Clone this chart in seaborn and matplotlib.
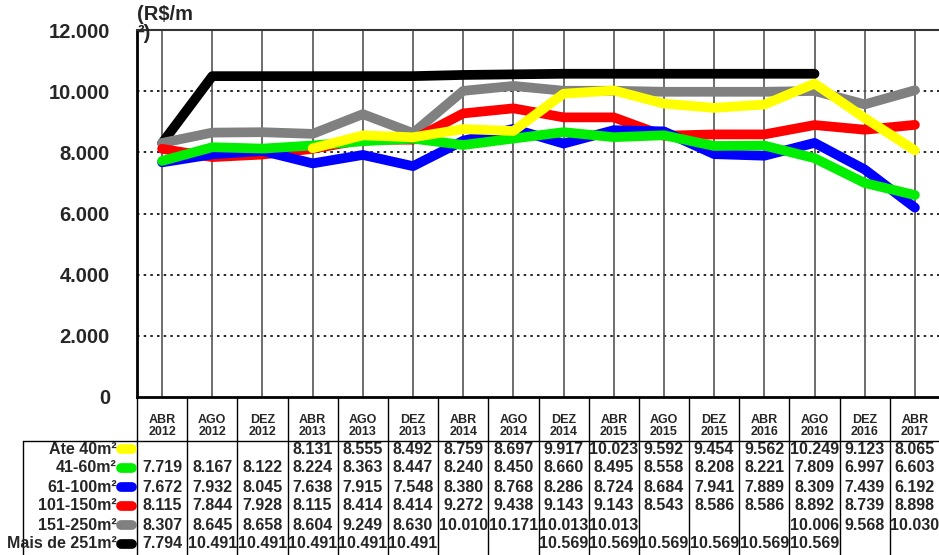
import numpy as np
import pandas as pd
import matplotlib
matplotlib.use("Agg")
import matplotlib.pyplot as plt
from matplotlib.lines import Line2D
import seaborn as sns

# --- data (R$/m2) ---
months = ["ABR", "AGO", "DEZ"] * 5 + ["ABR"]
years = ["2012"] * 3 + ["2013"] * 3 + ["2014"] * 3 + ["2015"] * 3 + ["2016"] * 3 + ["2017"]
x_labels = [f"{m}\n{y}" for m, y in zip(months, years)]

faixas = ["Ate 40m²", "41-60m²", "61-100m²", "101-150m²", "151-250m²", "Mais de 251m²"]
cores = ["#FFFF00", "#00EE00", "#0000FF", "#FF0000", "#808080", "#000000"]

nan = np.nan
ate_40 = [nan, nan, nan, 8131, 8555, 8492, 8759, 8697, 9917, 10023, 9592, 9454, 9562, 10249, 9123, 8065]
m41_60 = [7719, 8167, 8122, 8224, 8363, 8447, 8240, 8450, 8660, 8495, 8558, 8208, 8221, 7809, 6997, 6603]
m61_100 = [7672, 7932, 8045, 7638, 7915, 7548, 8380, 8768, 8286, 8724, 8684, 7941, 7889, 8309, 7439, 6192]
m101_150 = [8115, 7844, 7928, 8115, 8414, 8414, 9272, 9438, 9143, 9143, 8543, 8586, 8586, 8892, 8739, 8898]
m151_250 = [8307, 8645, 8658, 8604, 9249, 8630, 10010, 10171, 10013, 10013, nan, nan, nan, 10006, 9568, 10030]
mais_251 = [7794, 10491, 10491, 10491, 10491, 10491, nan, nan, 10569, 10569, 10569, 10569, 10569, 10569, nan, nan]
tabela = [ate_40, m41_60, m61_100, m101_150, m151_250, mais_251]

# the drawn lines differ a little from the table where cells are blank
# (estimated from the curves in the picture)
linha_151_250 = [8307, 8645, 8658, 8604, 9249, 8630, 10010, 10171, 10013, 10013, 9980, 9980, 9980, 10006, 9568, 10030]
linha_251 = [8300, 10491, 10491, 10491, 10491, 10491, 10530, 10550, 10569, 10569, 10569, 10569, 10569, 10569, nan, nan]
linhas = [ate_40, m41_60, m61_100, m101_150, linha_151_250, linha_251]


def fmt(v):
    return f"{int(v):,}".replace(",", ".")


sns.set_style("white")
plt.rcParams['font.family'] = ['Liberation Sans', 'DejaVu Sans']
plt.rcParams['font.weight'] = 'bold'

W, H = 939, 555
fig = plt.figure(figsize=(W / 100, H / 100), dpi=100)


def fx(px):
    return px / W


def fy(py):
    return 1 - py / H


ax = fig.add_axes([fx(137), fy(397), fx(940) - fx(137), fy(30) - fy(397)])

rows = []
for nome, vals in zip(faixas, linhas):
    for i, v in enumerate(vals):
        if not np.isnan(v):
            rows.append({"pos": i, "valor": v, "faixa": nome})
df = pd.DataFrame(rows)

draw_order = ["Mais de 251m²", "151-250m²", "101-150m²", "61-100m²", "41-60m²", "Ate 40m²"]
sns.lineplot(data=df, x="pos", y="valor", hue="faixa", hue_order=draw_order,
             palette=dict(zip(faixas, cores)), linewidth=7, legend=False,
             errorbar=None, sort=False, ax=ax)
for ln in ax.lines:
    ln.set_solid_capstyle("round")
    ln.set_solid_joinstyle("round")
    ln.set_zorder(3)

ax.set_xlim(-0.5, 15.5)
ax.set_ylim(0, 12000)
ax.set_xlabel("")
ax.set_ylabel("")
yt = list(range(0, 12001, 2000))
ax.set_yticks(yt)
ax.set_yticklabels([fmt(v) for v in yt])
ax.set_xticks(range(len(x_labels)))
ax.set_xticklabels(x_labels, fontsize=9, fontweight="bold", linespacing=1.05)
ax.tick_params(axis="x", length=7, width=1, color="#444444", pad=5)
ax.tick_params(axis="y", length=9.5, width=1.2, color="black", pad=10, labelsize=14.5)

# grid
for y in yt[1:-1]:
    ax.axhline(y, color="black", lw=1.2, ls=(0, (1.5, 2.5)), zorder=1)
for i in range(len(x_labels)):
    ax.axvline(i, color="#555555", lw=1.2, zorder=1)

for s in ["left", "bottom"]:
    ax.spines[s].set_color("black")
    ax.spines[s].set_linewidth(2)
ax.spines["top"].set_color("#333333")
ax.spines["top"].set_linewidth(1.5)
ax.spines["right"].set_visible(False)

# table under the chart
trans = ax.get_xaxis_transform()
bottom_ax = (397 - 555) / 367
for k in range(len(x_labels) + 1):
    ax.plot([k - 0.5, k - 0.5], [0, bottom_ax], transform=trans, color="black",
            lw=1, clip_on=False)
fig.add_artist(Line2D([fx(23), 1], [fy(440.5)] * 2, color="black", lw=1))
fig.add_artist(Line2D([fx(23)] * 2, [fy(440.5), 0], color="black", lw=1))

row_y = [449, 468, 487, 506, 525, 544]
for nome, cor, vals, yp in zip(faixas, cores, tabela, row_y):
    fig.text(fx(117), fy(yp), nome, ha="right", va="center", fontsize=11.5, fontweight="bold")
    fig.add_artist(Line2D([fx(121), fx(132)], [fy(yp)] * 2, lw=7, color=cor,
                          solid_capstyle="round"))
    for i, v in enumerate(vals):
        if not np.isnan(v):
            ax.text(i, (397 - yp) / 367, fmt(v), transform=trans, ha="center",
                    va="center", fontsize=11.5, fontweight="bold", clip_on=False)

fig.text(fx(137), fy(5), "(R$/m\n²)", ha="left", va="top", fontsize=14.5,
         fontweight="bold", linespacing=1.0)

fig.savefig("out.png", dpi=100)
